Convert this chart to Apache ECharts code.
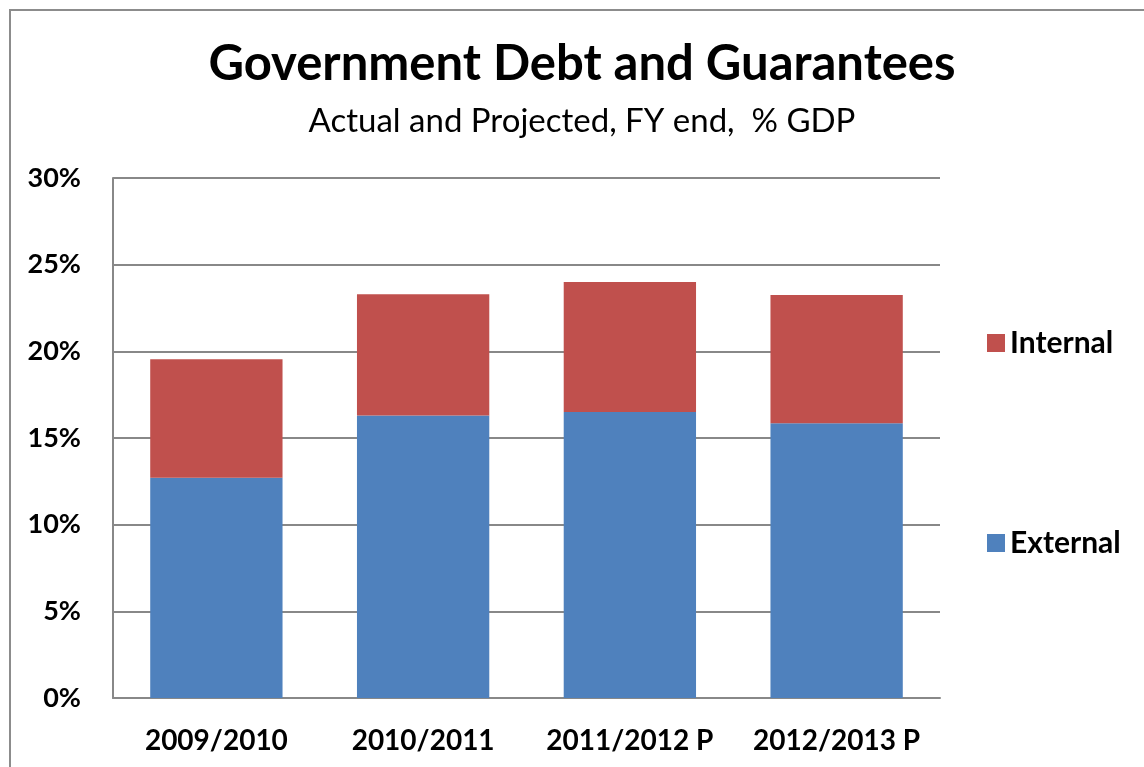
<!DOCTYPE html>
<html>
<head>
<meta charset="utf-8">
<script src="https://cdn.jsdelivr.net/npm/echarts@6/dist/echarts.min.js"></script>
<style>
  html, body { margin: 0; padding: 0; background: #fff; }
  #chart { width: 1144px; height: 767px; }
</style>
</head>
<body>
<div id="chart"></div>
<script>
var years = ['2009/2010', '2010/2011', '2011/2012 P', '2012/2013 P'];
var external = [12.7, 16.3, 16.5, 15.85];
var internal = [6.85, 7.0, 7.5, 7.4];
var yTicks = [0, 5, 10, 15, 20, 25, 30];

var chart = echarts.init(document.getElementById('chart'), null, { renderer: 'canvas' });

var font = 'Lato, "Open Sans", sans-serif';

chart.setOption({
  animation: false,
  backgroundColor: '#fff',
  textStyle: { fontFamily: font },
  graphic: [{
    type: 'rect',
    shape: { x: 10, y: 10, width: 1300, height: 900 },
    style: { fill: 'none', stroke: '#8c8c8c', lineWidth: 2 },
    silent: true
  }],
  title: {
    text: 'Government Debt and Guarantees',
    subtext: 'Actual and Projected, FY end,  % GDP',
    left: 577,
    textAlign: 'center',
    top: 35,
    itemGap: 16,
    textStyle: { fontFamily: font, fontSize: 49, fontWeight: 'bold', color: '#000' },
    subtextStyle: { fontFamily: font, fontSize: 33, color: '#000' }
  },
  legend: {
    data: ['Internal', 'External'],
    orient: 'vertical',
    left: 982,
    top: 323,
    itemWidth: 18,
    itemHeight: 18,
    itemGap: 170,
    icon: 'rect',
    textStyle: { fontFamily: font, fontSize: 30, fontWeight: 'bold', color: '#000' }
  },
  grid: { left: 113, right: 204, top: 178, bottom: 69, containLabel: false },
  xAxis: {
    type: 'category',
    data: years,
    axisLine: { lineStyle: { color: '#888', width: 2 } },
    axisTick: { show: false },
    axisLabel: { interval: 0, margin: 29, fontFamily: font, fontSize: 28, fontWeight: 'bold', color: '#000' }
  },
  yAxis: {
    type: 'value',
    min: yTicks[0],
    max: yTicks[yTicks.length - 1],
    interval: 5,
    axisLine: { show: true, lineStyle: { color: '#888', width: 2 } },
    axisTick: { show: false },
    axisLabel: { margin: 32, formatter: '{value}%', fontFamily: font, fontSize: 27, fontWeight: 'bold', color: '#000' },
    splitLine: { lineStyle: { color: '#888', width: 2 } }
  },
  series: [
    { name: 'External', type: 'bar', stack: 'total', data: external, barWidth: '64%', itemStyle: { color: '#4F81BD' } },
    { name: 'Internal', type: 'bar', stack: 'total', data: internal, barWidth: '64%', itemStyle: { color: '#C0504D' } }
  ]
});
</script>
</body>
</html>
